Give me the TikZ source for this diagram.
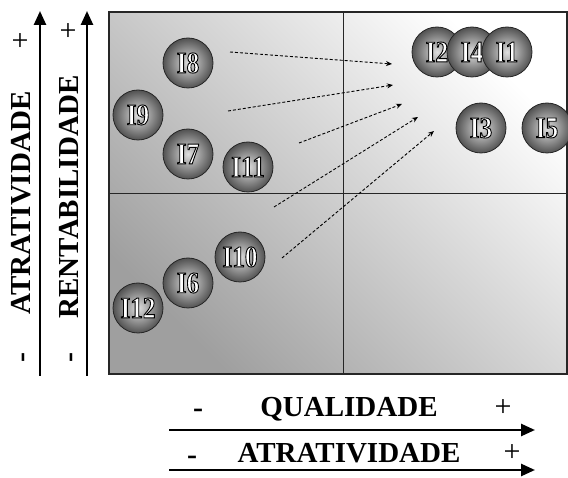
\documentclass[tikz,border=0pt]{standalone}
\usepackage{fontspec}
\setmainfont{Liberation Serif}
\newfontfamily\indfont[FakeStretch=0.84]{Liberation Serif Bold}
\usetikzlibrary{arrows.meta}
% white letters with a black outline
\newcommand{\indlbl}[1]{\special{pdf:literal direct 0 G 0.9 w 2 Tr}#1\special{pdf:literal direct 0 Tr}}

\begin{document}
\begin{tikzpicture}[x=1pt, y=-1pt,
ind/.style={circle, draw=black!85, line width=0.8pt, minimum size=50pt, inner sep=0pt,
  inner color=gray!25, outer color=black!68, text=white,
  font=\fontsize{30}{30}\indfont},
axlbl/.style={font=\fontsize{29}{29}\selectfont\bfseries},
sgn/.style={font=\fontsize{30}{30}\selectfont},
dsh/.style={font=\fontsize{30}{30}\selectfont\bfseries},
axis/.style={line width=2.6pt, -{Triangle[length=14pt, width=12pt]}},
move/.style={dashed, dash pattern=on 3pt off 2pt, line width=0.9pt, -{Stealth[length=6pt, width=5pt]}},]

\useasboundingbox (0,0) rectangle (568,478);

% quadrants
\shade[top color=white, bottom color=gray!75, shading angle=-45] (109,12) rectangle (567,374);
\draw[gray!30!black, line width=1.2pt] (109,12) rectangle (567,374);
\draw[gray!30!black, line width=1pt] (343,12) -- (343,374);
\draw[gray!30!black, line width=1pt] (109,194) -- (567,194);

% vertical axes
\coordinate (A1s) at (40,376);
\coordinate (A1e) at (40,11);
\coordinate (A2s) at (87,376);
\coordinate (A2e) at (87,11);
\draw[axis] (A1s) -- (A1e);
\draw[axis] (A2s) -- (A2e);
\node[axlbl, rotate=90] (atr1) at (21,203) {ATRATIVIDADE};
\node[axlbl, rotate=90] (rent) at (69,197) {RENTABILIDADE};
\node[sgn] (atr1p) at (20,42) {+};
\node[sgn] (rentp) at (68,32) {+};
\node[dsh, rotate=90] (atr1m) at (26,358) {-};
\node[dsh, rotate=90] (rentm) at (74,358) {-};

% horizontal axes
\coordinate (Q1s) at (169,430);
\coordinate (Q1e) at (535,430);
\coordinate (Q2s) at (169,470);
\coordinate (Q2e) at (535,470);
\draw[axis] (Q1s) -- (Q1e);
\draw[axis] (Q2s) -- (Q2e);
\node[axlbl] (qual) at (349,409) {QUALIDADE};
\node[axlbl] (atr2) at (349,453) {ATRATIVIDADE};
\node[dsh] (qualm) at (198,413) {-};
\node[sgn] (qualp) at (503,408) {+};
\node[dsh] (atr2m) at (192,460) {-};
\node[sgn] (atr2p) at (512,453) {+};

% indicators
\node[ind] (I8) at (188,63) {\indlbl{I8}};
\node[ind] (I9) at (138,115) {\indlbl{I9}};
\node[ind] (I7) at (188,154) {\indlbl{I7}};
\node[ind] (I11) at (248,167) {\indlbl{I11}};
\node[ind] (I10) at (240,257) {\indlbl{I10}};
\node[ind] (I6) at (188,283) {\indlbl{I6}};
\node[ind] (I12) at (138,308) {\indlbl{I12}};
\node[ind] (I2) at (437,52) {\indlbl{I2}};
\node[ind] (I4) at (472,52) {\indlbl{I4}};
\node[ind] (I1) at (507,52) {\indlbl{I1}};
\node[ind] (I3) at (481,128) {\indlbl{I3}};
\node[ind] (I5) at (547,128) {\indlbl{I5}};

% moves
\coordinate (m1s) at (230,52);
\coordinate (m1e) at (392,64);
\coordinate (m2s) at (228,111);
\coordinate (m2e) at (393,85);
\coordinate (m3s) at (299,143);
\coordinate (m3e) at (402,104);
\coordinate (m4s) at (274,207);
\coordinate (m4e) at (418,117);
\coordinate (m5s) at (282,258);
\coordinate (m5e) at (434,131);
\draw[move] (m1s) -- (m1e);
\draw[move] (m2s) -- (m2e);
\draw[move] (m3s) -- (m3e);
\draw[move] (m4s) -- (m4e);
\draw[move] (m5s) -- (m5e);

\end{tikzpicture}
\end{document}
